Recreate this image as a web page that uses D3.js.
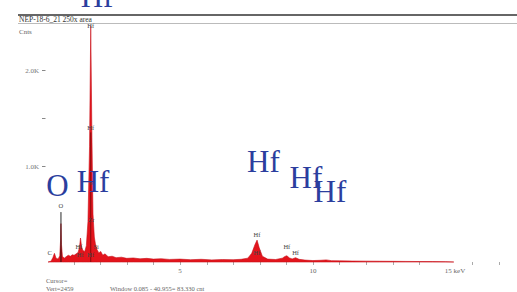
<!DOCTYPE html>
<html>
<head>
<meta charset="utf-8">
<title>NEP-18-6_21 250x area</title>
<script src="https://cdn.jsdelivr.net/npm/d3@7"></script>
<style>
  body { margin: 0; background: #fff; }
  text { font-family: "Liberation Serif", "DejaVu Serif", serif; }
</style>
</head>
<body>
<script>
// spectrum (keV, counts)
var energy = [0.04, 0.15, 0.22, 0.28, 0.34, 0.42, 0.48, 0.51, 0.525, 0.545, 0.58, 0.65, 0.72, 0.8, 0.88,
  0.95, 1.02, 1.1, 1.17, 1.22, 1.26, 1.3, 1.35, 1.42, 1.48, 1.54, 1.6, 1.645, 1.69, 1.73, 1.78, 1.82,
  1.88, 1.95, 2.02, 2.1, 2.18, 2.3, 2.45, 2.6, 2.8, 3.0, 3.25, 3.5, 3.75, 4.0, 4.3, 4.6, 5.0, 5.4,
  5.8, 6.2, 6.6, 7.0, 7.3, 7.55, 7.7, 7.82, 7.9, 7.98, 8.1, 8.3, 8.6, 8.85, 8.95, 9.02, 9.12, 9.22,
  9.35, 9.48, 9.7, 10.0, 10.3, 10.5, 10.7, 11.0, 11.5, 12.0, 12.5, 13.0, 13.5, 14.0, 14.5, 15.0, 15.3];
var counts = [0, 8, 45, 90, 40, 30, 65, 220, 400, 180, 60, 40, 55, 70, 60,
  75, 70, 85, 100, 150, 250, 160, 120, 110, 170, 420, 1200, 2459, 1300, 500, 260, 190,
  130, 95, 110, 70, 85, 55, 60, 45, 50, 38, 42, 33, 38, 30, 34, 27, 30, 24,
  28, 22, 26, 24, 28, 40, 90, 180, 228, 150, 60, 30, 26, 40, 58, 65, 42, 32,
  45, 28, 20, 15, 18, 22, 14, 12, 10, 9, 8, 7, 6, 5, 4, 3, 0];

var xTicks = [5, 10];
var minorTicks = [1, 2, 3, 4, 6, 7, 8, 9, 11, 12, 13, 14, 16, 17];
var yTicks = [1000, 2000];
var yTickLabels = ["1.0K", "2.0K"];
var yMinor = [1500];

// small peak labels (text, keV, counts)
var peakText = ["C", "O", "Hf", "Hf", "S", "Zr", "Hf", "Hf", "Si", "Hf", "Hf", "Hf", "Hf", "Hf"];
var peakKeV = [0.1, 0.525, 1.645, 1.645, 1.645, 1.67, 1.2, 1.25, 1.85, 1.645, 7.9, 7.9, 9.02, 9.35];
var peakCnt = [70, 560, 2440, 1380, 800, 420, 140, 50, 140, 50, 260, 70, 140, 70];

// big overlaid element labels (text, keV, counts)
var bigText = ["Hf", "y", "g", "O", "Hf", "Hf", "Hf", "Hf"];
var bigKeV = [1.88, 11.85, 12.97, 0.39, 1.73, 8.14, 9.74, 10.64];
var bigCnt = [2656, 2805, 2805, 687, 729, 937, 771, 625];

var width = 517, height = 292;

var svg = d3.select("body").append("svg")
    .attr("width", width)
    .attr("height", height);

var x = d3.scaleLinear().domain([0, 17]).range([47, 499]);
var y = d3.scaleLinear().domain([0, 2000]).range([262, 70]);

// header lines + title
svg.append("line").attr("x1", 18).attr("x2", width).attr("y1", 15).attr("y2", 15)
    .attr("stroke", "#333").attr("stroke-width", 1.3);
svg.append("line").attr("x1", 18).attr("x2", width).attr("y1", 23.5).attr("y2", 23.5)
    .attr("stroke", "#bbb").attr("stroke-width", 1);
svg.append("text").attr("x", 19).attr("y", 21.5).attr("font-size", "7.5px").attr("fill", "#333")
    .text("NEP-18-6_21 250x area");
svg.append("text").attr("x", 19).attr("y", 34).attr("font-size", "7px").attr("fill", "#666")
    .text("Cnts");

// y ticks
svg.selectAll(".ylab").data(yTicks).enter().append("text")
    .attr("x", 39).attr("y", function(d) { return y(d) + 2.5; })
    .attr("text-anchor", "end").attr("font-size", "7px").attr("fill", "#777")
    .text(function(d, i) { return yTickLabels[i]; });
svg.selectAll(".ytk").data(yTicks.concat(yMinor)).enter().append("line")
    .attr("x1", 42).attr("x2", 45.5)
    .attr("y1", function(d) { return y(d) + 0.5; }).attr("y2", function(d) { return y(d) + 0.5; })
    .attr("stroke", "#888").attr("stroke-width", 1);

// x ticks
svg.selectAll(".xtk").data(xTicks.concat(minorTicks)).enter().append("line")
    .attr("x1", function(d) { return Math.round(x(d)) + 0.5; })
    .attr("x2", function(d) { return Math.round(x(d)) + 0.5; })
    .attr("y1", 262).attr("y2", 265)
    .attr("stroke", "#aaa").attr("stroke-width", 1);
svg.selectAll(".xlab").data(xTicks).enter().append("text")
    .attr("x", function(d) { return x(d); }).attr("y", 273)
    .attr("text-anchor", "middle").attr("font-size", "7px").attr("fill", "#666")
    .text(function(d) { return d; });
svg.append("text").attr("x", x(15) - 1).attr("y", 273)
    .attr("font-size", "7px").attr("fill", "#666").text("15 keV");

// spectrum
var pts = energy.map(function(e, i) { return [e, counts[i]]; });
var area = d3.area()
    .x(function(d) { return x(d[0]); })
    .y0(y(0))
    .y1(function(d) { return y(d[1]); });
svg.append("path").datum(pts)
    .attr("d", area)
    .attr("fill", "#e3141c")
    .attr("stroke", "#c8101a")
    .attr("stroke-width", 0.6);

// line markers
svg.append("line").attr("x1", x(0.525)).attr("x2", x(0.525)).attr("y1", y(520)).attr("y2", y(0))
    .attr("stroke", "#111").attr("stroke-width", 0.9);
svg.append("line").attr("x1", x(1.645)).attr("x2", x(1.645)).attr("y1", y(1350)).attr("y2", y(0))
    .attr("stroke", "#7a0a0a").attr("stroke-width", 0.9);

// small peak labels
svg.selectAll(".plab").data(peakText).enter().append("text")
    .attr("x", function(d, i) { return x(peakKeV[i]); })
    .attr("y", function(d, i) { return y(peakCnt[i]); })
    .attr("text-anchor", "middle").attr("font-size", "6.5px").attr("fill", "#444")
    .text(function(d) { return d; });

// big blue labels
svg.selectAll(".blab").data(bigText).enter().append("text")
    .attr("x", function(d, i) { return x(bigKeV[i]); })
    .attr("y", function(d, i) { return y(bigCnt[i]); })
    .attr("text-anchor", "middle").attr("font-size", "31px").attr("fill", "#2b3e9e")
    .text(function(d) { return d; });

// footer
svg.append("text").attr("x", 46).attr("y", 283).attr("font-size", "6.5px").attr("fill", "#666")
    .text("Cursor=");
svg.append("text").attr("x", 46).attr("y", 291).attr("font-size", "6.5px").attr("fill", "#666")
    .text("Vert=2459");
svg.append("text").attr("x", 110).attr("y", 291).attr("font-size", "6.5px").attr("fill", "#666")
    .text("Window 0.085 - 40.955= 83.330 cnt");
</script>
</body>
</html>
